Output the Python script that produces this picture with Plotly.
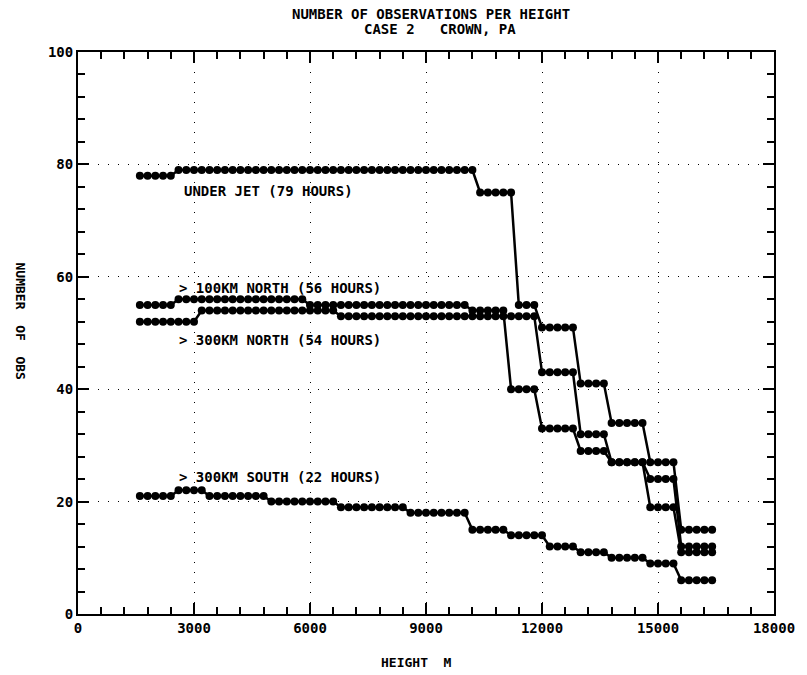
import plotly.graph_objects as go

# Heights (m) at which the counts were plotted
heights = [
    1600, 1800, 2000, 2200, 2400, 2600, 2800, 3000, 3200, 3400,
    3600, 3800, 4000, 4200, 4400, 4600, 4800, 5000, 5200, 5400,
    5600, 5800, 6000, 6200, 6400, 6600, 6800, 7000, 7200, 7400,
    7600, 7800, 8000, 8200, 8400, 8600, 8800, 9000, 9200, 9400,
    9600, 9800, 10000, 10200, 10400, 10600, 10800, 11000, 11200, 11400,
    11600, 11800, 12000, 12200, 12400, 12600, 12800, 13000, 13200, 13400,
    13600, 13800, 14000, 14200, 14400, 14600, 14800, 15000, 15200, 15400,
    15600, 15800, 16000, 16200, 16400,
]

under_jet = [
    78, 78, 78, 78, 78, 79, 79, 79, 79, 79,
    79, 79, 79, 79, 79, 79, 79, 79, 79, 79,
    79, 79, 79, 79, 79, 79, 79, 79, 79, 79,
    79, 79, 79, 79, 79, 79, 79, 79, 79, 79,
    79, 79, 79, 79, 75, 75, 75, 75, 75, 55,
    55, 55, 51, 51, 51, 51, 51, 41, 41, 41,
    41, 34, 34, 34, 34, 34, 27, 27, 27, 27,
    15, 15, 15, 15, 15,
]

north_100km = [
    55, 55, 55, 55, 55, 56, 56, 56, 56, 56,
    56, 56, 56, 56, 56, 56, 56, 56, 56, 56,
    56, 56, 55, 55, 55, 55, 55, 55, 55, 55,
    55, 55, 55, 55, 55, 55, 55, 55, 55, 55,
    55, 55, 55, 54, 54, 54, 54, 54, 40, 40,
    40, 40, 33, 33, 33, 33, 33, 29, 29, 29,
    29, 27, 27, 27, 27, 27, 19, 19, 19, 19,
    11, 11, 11, 11, 11,
]

north_300km = [
    52, 52, 52, 52, 52, 52, 52, 52, 54, 54,
    54, 54, 54, 54, 54, 54, 54, 54, 54, 54,
    54, 54, 54, 54, 54, 54, 53, 53, 53, 53,
    53, 53, 53, 53, 53, 53, 53, 53, 53, 53,
    53, 53, 53, 53, 53, 53, 53, 53, 53, 53,
    53, 53, 43, 43, 43, 43, 43, 32, 32, 32,
    32, 27, 27, 27, 27, 27, 24, 24, 24, 24,
    12, 12, 12, 12, 12,
]

south_300km = [
    21, 21, 21, 21, 21, 22, 22, 22, 22, 21,
    21, 21, 21, 21, 21, 21, 21, 20, 20, 20,
    20, 20, 20, 20, 20, 20, 19, 19, 19, 19,
    19, 19, 19, 19, 19, 18, 18, 18, 18, 18,
    18, 18, 18, 15, 15, 15, 15, 15, 14, 14,
    14, 14, 14, 12, 12, 12, 12, 11, 11, 11,
    11, 10, 10, 10, 10, 10, 9, 9, 9, 9,
    6, 6, 6, 6, 6,
]

series = [
    ("UNDER JET", under_jet),
    ("100KM NORTH", north_100km),
    ("300KM NORTH", north_300km),
    ("300KM SOUTH", south_300km),
]

labels = [
    ("UNDER JET (79 HOURS)", 2700, 75.3),
    ("> 100KM NORTH (56 HOURS)", 2550, 58.0),
    ("> 300KM NORTH (54 HOURS)", 2550, 48.8),
    ("> 300KM SOUTH (22 HOURS)", 2550, 24.4),
]

x_ticks = [0, 3000, 6000, 9000, 12000, 15000, 18000]
y_ticks = [0, 20, 40, 60, 80, 100]

FONT = "DejaVu Sans Mono"

fig = go.Figure()
for name, vals in series:
    fig.add_trace(go.Scatter(
        x=heights, y=vals, mode="lines+markers", name=name,
        line=dict(color="black", width=2.5),
        marker=dict(color="black", size=8),
        showlegend=False,
    ))

annotations = []
for text, xv, yv in labels:
    annotations.append(dict(
        x=xv, y=yv, xref="x", yref="y", text="<b>%s</b>" % text,
        showarrow=False, xanchor="left", yanchor="middle",
        font=dict(family=FONT, size=14, color="black"),
    ))

annotations += [
    dict(x=0.507, y=1.068, xref="paper", yref="paper",
         text="<b>NUMBER OF OBSERVATIONS PER HEIGHT</b>", showarrow=False,
         font=dict(family=FONT, size=14, color="black"), yanchor="middle"),
    dict(x=0.52, y=1.041, xref="paper", yref="paper",
         text="<b>CASE 2   CROWN, PA</b>", showarrow=False,
         font=dict(family=FONT, size=14, color="black"), yanchor="middle"),
    dict(x=0.487, y=-0.087, xref="paper", yref="paper",
         text="<b>HEIGHT  M</b>", showarrow=False,
         font=dict(family=FONT, size=13, color="black"), yanchor="middle"),
    dict(x=-0.083, y=0.52, xref="paper", yref="paper",
         text="<b>NUMBER  OF  OBS</b>", showarrow=False, textangle=90,
         font=dict(family=FONT, size=13, color="black"),
         xanchor="center", yanchor="middle"),
]

axis_common = dict(
    showline=True, linecolor="black", linewidth=2, mirror="ticks",
    ticks="inside", ticklen=11, tickwidth=2, tickcolor="black",
    showgrid=True, gridcolor="black", gridwidth=1, griddash="1px,9px",
    zeroline=False,
    tickfont=dict(family=FONT, size=14, color="black"),
)

fig.update_xaxes(
    range=[0, 18000], tickvals=x_ticks,
    ticktext=["<b>%d</b>" % v for v in x_ticks],
    minor=dict(ticks="inside", ticklen=7, tickwidth=1.5, tickcolor="black",
               dtick=600, showgrid=False),
    **axis_common,
)
fig.update_yaxes(
    range=[0, 100], tickvals=y_ticks,
    ticktext=["<b>%d</b>" % v for v in y_ticks],
    minor=dict(ticks="inside", ticklen=7, tickwidth=1.5, tickcolor="black",
               dtick=4, showgrid=False),
    **axis_common,
)

fig.update_layout(
    width=807, height=675,
    margin=dict(l=78, r=27, t=52, b=61),
    paper_bgcolor="white", plot_bgcolor="white",
    annotations=annotations,
    font=dict(family=FONT, color="black"),
)

fig.write_html(
    "out.html",
    config={"displayModeBar": False},
    post_script="document.body.style.margin='0';document.body.style.overflow='hidden';",
)
